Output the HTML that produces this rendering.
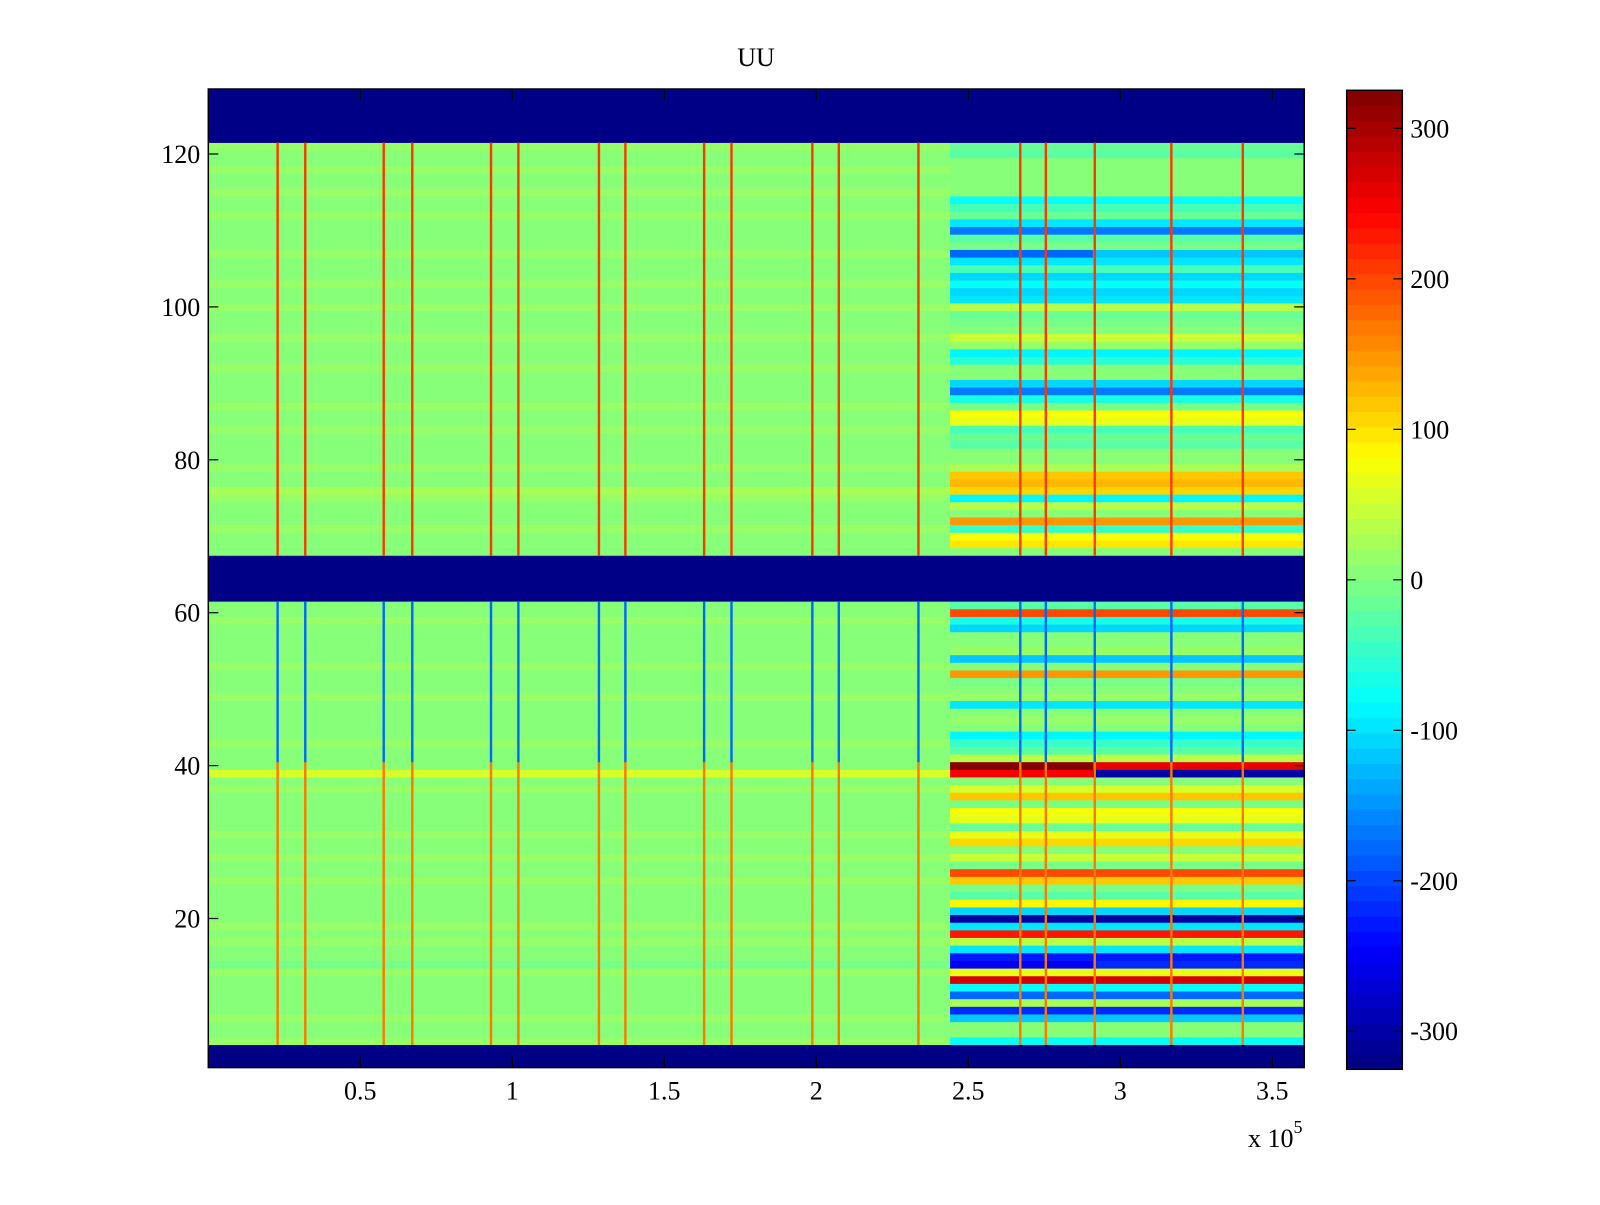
<!DOCTYPE html>
<html><head><meta charset="utf-8"><style>
html,body{margin:0;padding:0;background:#fff;}
svg text{font-family:"Liberation Serif",serif;fill:#000;}
</style></head><body>
<svg id="chart" width="1600" height="1200" viewBox="0 0 1600 1200" xmlns="http://www.w3.org/2000/svg">
<rect width="1600" height="1200" fill="#fff"/>
<text x="756" y="66" font-size="26" text-anchor="middle">UU</text>
<g id="cells"></g>
<g id="spikes"></g>
<g id="axes"></g>
<g id="cbar"></g>
</svg>
<script>
// ---- data ----
const B = -325;
const rowIds = Array.from({length:128},(_,i)=>i+1);
const xSegments = [0, 2.44, 2.91, 3.605]; // x in units of 1e5
const rightA = [B,B,B,-80,10,10,-120,-220,30,-180,-80,270,70,-250,-230,-100,40,230,-100,-300,-110,90,-30,-10,120,200,-10,50,0,110,70,-20,70,80,-10,120,60,0,250,320,40,-30,-50,-90,0,20,0,-100,20,10,-10,150,0,-120,20,0,10,-110,-70,200,-30,B,B,B,B,B,B,10,100,80,-50,150,10,40,-90,110,130,120,30,10,0,-30,-20,-40,70,80,-10,-70,-170,-110,0,0,-60,-90,20,50,0,-10,-20,40,-100,-110,-80,-110,-40,-100,-180,-10,-30,-170,-100,-20,-40,-80,0,10,0,10,0,-30,-20,B,B,B,B,B,B,B];
const rightB = [B,B,B,-80,10,10,-120,-220,30,-180,-80,270,70,-220,-230,-100,40,230,-100,-300,-110,90,-30,-10,120,200,-10,50,0,110,70,-20,70,80,-10,120,60,0,-300,260,40,-30,-50,-90,0,20,0,-100,20,10,-10,150,0,-120,20,0,10,-110,-70,200,-30,B,B,B,B,B,B,10,100,80,-50,150,10,40,-90,110,130,120,30,10,0,-30,-20,-40,70,80,-10,-70,-170,-110,0,0,-60,-90,20,50,0,-10,-20,40,-100,-110,-80,-110,-40,-100,-120,-10,-30,-170,-100,-20,-40,-80,0,10,0,10,0,-30,-20,B,B,B,B,B,B,B];
const leftVals = [B,B,B,12,8,8,12,8,8,3,8,8,12,-5,8,8,12,8,18,8,8,3,8,8,12,8,8,18,8,8,12,8,8,8,3,8,12,8,55,8,8,8,12,8,8,3,8,8,12,8,8,8,12,8,8,3,8,8,12,8,8,B,B,B,B,B,B,8,3,8,12,8,3,8,12,28,8,8,12,8,8,3,8,12,8,8,12,8,8,3,8,12,8,8,8,12,8,8,3,12,8,8,12,8,8,8,12,8,8,3,8,12,8,8,12,8,8,12,8,8,12,B,B,B,B,B,B,B];
const spikeX = [0.228,0.319,0.577,0.671,0.930,1.020,1.285,1.372,1.631,1.721,1.987,2.074,2.336,2.671,2.755,2.916,3.168,3.403];
const spikeUpper = 210, spikeLowerTop = -180, spikeLowerBottom = 170;
const yTicks = [20,40,60,80,100,120];
const xTicks = [0.5,1,1.5,2,2.5,3,3.5];
const xTickLabels = ["0.5","1","1.5","2","2.5","3","3.5"];
const cTicks = [-300,-200,-100,0,100,200,300];
// ---- scales ----
const X0=208.3, PX=304, YZ=1071.4, PY=7.645, CMAX=325.3;
const xs = v => X0 + v*PX;
const ys = v => YZ - v*PY;
function jet(v){
  let t=(v+CMAX)/(2*CMAX); t=Math.max(0,Math.min(0.9999,t));
  t=(Math.floor(t*64)+0.5)/64;
  const c=x=>Math.round(255*Math.max(0,Math.min(1,x)));
  return `rgb(${c(1.5-Math.abs(4*t-3))},${c(1.5-Math.abs(4*t-2))},${c(1.5-Math.abs(4*t-1))})`;
}
const NS="http://www.w3.org/2000/svg";
function mk(tag,attrs,parent){const e=document.createElementNS(NS,tag);for(const k in attrs)e.setAttribute(k,attrs[k]);parent.appendChild(e);return e;}
const cells=document.getElementById('cells');
const series=[leftVals,rightA,rightB];
rowIds.forEach((r,i)=>{
  const yt=ys(r+0.5), yb=ys(r-0.5);
  series.forEach((s,k)=>{
    const e=mk('rect',{x:xs(xSegments[k]),y:yt,width:xs(xSegments[k+1])-xs(xSegments[k])+0.5,height:yb-yt+0.4,fill:jet(s[i])},cells);
    
    
  });
});
const spikes=document.getElementById('spikes');
spikeX.forEach(sx=>{
  rowIds.forEach((r,i)=>{
    if(leftVals[i]===B) return;
    let v = r>=68 ? spikeUpper : (r>=41 ? spikeLowerTop : spikeLowerBottom);
    const yt=ys(r+0.5), yb=ys(r-0.5);
    const e=mk('rect',{x:xs(sx)-1.2,y:yt,width:2.4,height:yb-yt+0.4,fill:jet(v)},spikes);
    
    
  });
});
// ---- axes ----
const ax=document.getElementById('axes');
const L=xs(0),R=xs(3.605),T=ys(128.5),Bt=ys(0.5);
let fr=mk('rect',{x:L,y:T,width:R-L,height:Bt-T,fill:'none',stroke:'#000','stroke-width':1.5},ax);


yTicks.forEach(v=>{
  const y=ys(v);
  mk('line',{x1:L,y1:y,x2:L+10,y2:y,stroke:'#000','stroke-width':1.2},ax);
  mk('line',{x1:R,y1:y,x2:R-10,y2:y,stroke:'#000','stroke-width':1.2},ax);
  const t=mk('text',{x:L-8,y:y+9,'font-size':26,'text-anchor':'end'},ax);
  t.textContent=v;
  
  
});
xTicks.forEach((v,i)=>{
  const x=xs(v);
  mk('line',{x1:x,y1:Bt,x2:x,y2:Bt-11,stroke:'#000','stroke-width':1.2},ax);
  mk('line',{x1:x,y1:T,x2:x,y2:T+11,stroke:'#000','stroke-width':1.2},ax);
  const t=mk('text',{x:x,y:Bt+32,'font-size':26,'text-anchor':'middle'},ax);
  t.textContent=xTickLabels[i];
  
  
});
const ex=mk('text',{x:1248,y:1147,'font-size':26},ax);


ex.innerHTML='x 10<tspan dy="-14" font-size="18">5</tspan>';
// ---- colorbar ----
const cb=document.getElementById('cbar');
const CL=1346.7,CR=1402.3,CT=90.3,CB=1069.3;
for(let k=0;k<64;k++){
  const v=-CMAX+(k+0.5)*(2*CMAX/64);
  const h=(CB-CT)/64;
  const e=mk('rect',{x:CL,y:CB-(k+1)*h,width:CR-CL,height:h+0.5,fill:jet(v)},cb);
  
  
}
mk('rect',{x:CL,y:CT,width:CR-CL,height:CB-CT,fill:'none',stroke:'#000','stroke-width':1.5},cb);
const cy=v=>CB-(v+CMAX)/(2*CMAX)*(CB-CT);
cTicks.forEach(v=>{
  const y=cy(v);
  mk('line',{x1:CL,y1:y,x2:CL+9,y2:y,stroke:'#000','stroke-width':1.2},cb);
  mk('line',{x1:CR,y1:y,x2:CR-9,y2:y,stroke:'#000','stroke-width':1.2},cb);
  const t=mk('text',{x:CR+8,y:y+9,'font-size':26},cb);
  t.textContent=v;
  
  
});
</script>
</body></html>
